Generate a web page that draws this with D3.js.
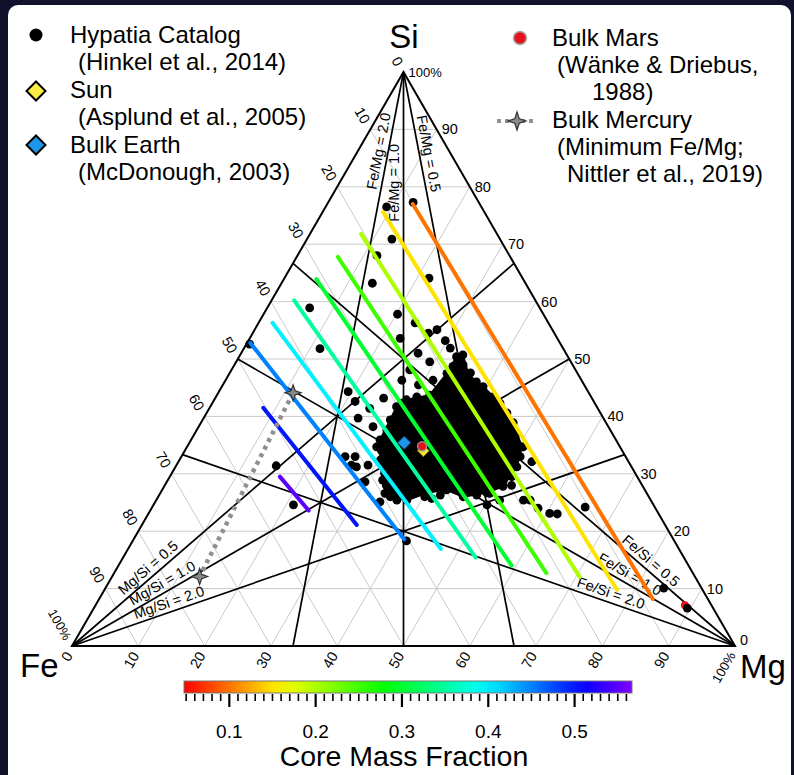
<!DOCTYPE html>
<html>
<head>
<meta charset="utf-8">
<script src="https://cdn.jsdelivr.net/npm/d3@7"></script>
<style>
	body { margin: 0; background: #11112b; }
	svg { display: block; }
	text { font-family: 'Liberation Sans', Arial, sans-serif; fill: #000; }
</style>
</head>
<body>
<svg width="794" height="775"></svg>
<script>
// every composition is [Mg %, Si %], Fe % = 100 - Mg - Si
const gridTicks = [10, 20, 30, 40, 50, 60, 70, 80, 90]
const axisTicks = [0, 10, 20, 30, 40, 50, 60, 70, 80, 90, 100]

const feMgRatios = [2.0, 1.0, 0.5]
const mgSiRatios = [0.5, 1.0, 2.0]
const feSiRatios = [0.5, 1.0, 2.0]

// iso core mass fraction lines
const cmfLevels = [0.1, 0.15, 0.2, 0.25, 0.3, 0.35, 0.4, 0.45, 0.5, 0.55]
const cmfStart = [
	[12.9, 77.0], [9.1, 75.6], [7.7, 71.8], [6.2, 67.8], [4.9, 63.9],
	[3.4, 60.2], [2.1, 56.3], [0.5, 52.8], [8.1, 41.5], [16.6, 29.5],
]
const cmfEnd = [
	[83.5, 8.2], [77.3, 9.8], [70.6, 12.0], [65.2, 12.7], [59.3, 14.0],
	[53.2, 15.4], [47.2, 16.9], [40.8, 18.6], [32.4, 21.1], [23.9, 23.6],
]
const cmfRange = [0.0475, 0.5665]
const cmfTicks = d3.range(5, 57).map(v => v / 100)
const cmfLabels = [0.1, 0.2, 0.3, 0.4, 0.5]

// outline of the dense part of the Hypatia cloud
const hypatiaCore = [
	[29.0, 42.9], [32.1, 43.7], [32.8, 47.5], [32.8, 50.4], [33.6, 50.7], [36.9, 46.3],
	[39.4, 45.2], [43.4, 42.3], [47.1, 38.9], [50.5, 34.7], [51.5, 31.2], [51.1, 27.8],
	[49.2, 26.7], [46.0, 26.0], [42.9, 27.2], [40.2, 26.7], [37.8, 25.4], [35.0, 26.0],
	[32.4, 28.9], [30.3, 32.4], [28.5, 35.9], [28.3, 39.4], [28.1, 41.7],
]
const hypatiaPoints = [
	[22.7, 53.6], [26.5, 54.5], [27.5, 55.1], [29.7, 53.2], [26.7, 51.0], [29.2, 49.5],
	[26.9, 48.1], [26.6, 46.3], [29.5, 45.5], [31.3, 46.3], [34.5, 49.0], [38.0, 46.0],
	[39.9, 44.3], [19.5, 44.3], [21.4, 42.6], [25.4, 43.2], [24.2, 41.4], [23.3, 39.7],
	[26.3, 38.2], [28.6, 34.7], [24.7, 33.0], [26.2, 33.0], [27.3, 31.2], [28.9, 31.5],
	[29.9, 28.6], [33.4, 28.0], [33.9, 25.1], [33.9, 26.6], [40.2, 26.0], [41.4, 25.7],
	[45.5, 26.6], [49.7, 26.6], [51.0, 28.0], [52.3, 28.0], [55.4, 25.4], [56.4, 25.4],
	[53.3, 32.1], [50.7, 34.7], [58.3, 24.0], [50.3, 24.6], [9.2, 76.5], [12.8, 77.3],
	[12.8, 70.9], [12.0, 68.0], [21.8, 64.1], [13.7, 63.2], [6.4, 58.9], [20.2, 57.8],
	[23.6, 56.3], [11.5, 51.8], [31.1, 51.9], [0.5, 52.6], [26.4, 31.5], [15.1, 31.4],
	[21.1, 24.6], [41.3, 18.3], [51.8, 25.4], [60.5, 23.1], [61.7, 23.0], [65.3, 24.2],
	[84.2, 10.1], [89.5, 6.6], [30.3, 43.4], [33.1, 48.7], [36.3, 47.6], [41.8, 43.4],
	[45.3, 40.6], [48.5, 37.1], [51.1, 33.0], [51.6, 29.5], [47.9, 26.3], [42.4, 26.3],
	[36.3, 25.4], [32.1, 30.1], [29.6, 34.1], [28.7, 37.6], [28.6, 42.3],
]
const redUnderPoints = [[88.9, 7.1]]
const bulkEarth = [32.4, 35.4]
const sun = [36.0, 34.0]
const bulkMars = [35.4, 34.8]
const bulkMercury = [[11.3, 44.1], [13.2, 12.1]]

const legendLeft = [
	['Hypatia Catalog', '(Hinkel et al., 2014)'],
	['Sun', '(Asplund et al., 2005)'],
	['Bulk Earth', '(McDonough, 2003)'],
]
const legendRight = [
	['Bulk Mars', '(Wänke & Driebus,', '1988)'],
	['Bulk Mercury', '(Minimum Fe/Mg;', 'Nittler et al., 2019)'],
]

const svg = d3.select('svg')
svg.append('rect').attr('width', 794).attr('height', 775).attr('fill', '#11112b')
svg.append('rect')
	.attr('x', 8)
	.attr('y', 5)
	.attr('width', 783)
	.attr('height', 800)
	.attr('rx', 10)
	.attr('fill', '#fff')

const px = d3.scaleLinear().domain([0, 100]).range([72, 735])
const py = d3.scaleLinear().domain([0, 100]).range([646, 72])
const proj = d => [px(d[0] + d[1] / 2), py(d[1])]
const line = d3
	.line()
	.x(d => proj(d)[0])
	.y(d => proj(d)[1])

const hue = d3.scaleLinear().domain(cmfRange).range([0, 270])
const cmfColor = v => d3.hsl(hue(v), 1, 0.5).formatHex()

// grid
const gridLines = []
gridTicks.forEach(v => {
	gridLines.push([[0, v], [100 - v, v]])
	gridLines.push([[v, 0], [v, 100 - v]])
	gridLines.push([[100 - v, 0], [0, 100 - v]])
})
svg.append('g')
	.selectAll('path')
	.data(gridLines)
	.enter()
	.append('path')
	.attr('d', d => line(d))
	.attr('stroke', '#cacaca')
	.attr('stroke-width', 1)
	.attr('fill', 'none')

// ratio lines
const ratioLines = [
	...feMgRatios.map((r, i) => ({
		label: `Fe/Mg = ${r.toFixed(1)}`,
		from: [0, 100],
		to: [100 / (1 + r), 0],
		at: [0.141, 0.193, 0.145][i],
	})),
	...mgSiRatios.map((r, i) => ({
		label: `Mg/Si = ${r.toFixed(1)}`,
		from: [0, 0],
		to: [(100 * r) / (1 + r), 100 / (1 + r)],
		at: [0.186, 0.191, 0.181][i],
	})),
	...feSiRatios.map((r, i) => ({
		label: `Fe/Si = ${r.toFixed(1)}`,
		from: [100, 0],
		to: [0, 100 / (1 + r)],
		at: [0.204, 0.221, 0.23][i],
	})),
]
svg.append('g')
	.selectAll('path')
	.data(ratioLines)
	.enter()
	.append('path')
	.attr('d', d => line([d.from, d.to]))
	.attr('stroke', '#000')
	.attr('stroke-width', 1.7)
	.attr('fill', 'none')

// triangle frame
svg.append('path')
	.attr('d', line([[0, 0], [100, 0], [0, 100]]) + 'Z')
	.attr('stroke', '#000')
	.attr('stroke-width', 2)
	.attr('fill', 'none')

svg.append('g')
	.selectAll('text')
	.data(ratioLines)
	.enter()
	.append('text')
	.attr('transform', d => {
		let a = proj(d.from)
		let b = proj(d.to)
		const p = proj([d.from[0] + d.at * (d.to[0] - d.from[0]), d.from[1] + d.at * (d.to[1] - d.from[1])])
		if (b[0] < a[0] || (b[0] == a[0] && b[1] > a[1])) {
			;[a, b] = [b, a]
		}
		const angle = (Math.atan2(b[1] - a[1], b[0] - a[0]) * 180) / Math.PI
		return `translate(${p[0]},${p[1]}) rotate(${angle})`
	})
	.attr('text-anchor', 'middle')
	.attr('dy', -4.5)
	.attr('font-size', 14.5)
	.text(d => d.label)

// Hypatia stars
svg.append('g')
	.selectAll('circle')
	.data(redUnderPoints)
	.enter()
	.append('circle')
	.attr('cx', d => proj(d)[0])
	.attr('cy', d => proj(d)[1])
	.attr('r', 4)
	.attr('fill', '#e8101a')
const hyp = svg.append('g').attr('fill', '#000')
hyp.append('path')
	.attr('d', line(hypatiaCore) + 'Z')
	.attr('stroke', '#000')
	.attr('stroke-width', 2)
	.attr('stroke-linejoin', 'round')
hyp.selectAll('circle')
	.data(hypatiaCore.concat(hypatiaPoints))
	.enter()
	.append('circle')
	.attr('cx', d => proj(d)[0])
	.attr('cy', d => proj(d)[1])
	.attr('r', 4.4)

// core mass fraction lines
svg.append('g')
	.selectAll('path')
	.data(cmfLevels)
	.enter()
	.append('path')
	.attr('d', (d, i) => line([cmfStart[i], cmfEnd[i]]))
	.attr('stroke', d => cmfColor(d))
	.attr('stroke-width', 4)
	.attr('stroke-linecap', 'round')
	.attr('fill', 'none')

// markers
const starPath = (R, r) => {
	const pts = d3.range(8).map(i => {
		const rad = i % 2 == 0 ? R : r
		const t = (i * Math.PI) / 4 - Math.PI / 2
		return [rad * Math.cos(t), rad * Math.sin(t)]
	})
	return 'M' + pts.join('L') + 'Z'
}
const diamondPath = h => `M0,${-h}L${h},0L0,${h}L${-h},0Z`

svg.append('path')
	.attr('d', line(bulkMercury))
	.attr('stroke', '#8f8f8f')
	.attr('stroke-width', 4.5)
	.attr('stroke-dasharray', '4,4.5')
	.attr('fill', 'none')
svg.append('g')
	.selectAll('path')
	.data(bulkMercury)
	.enter()
	.append('path')
	.attr('transform', d => `translate(${proj(d)})`)
	.attr('d', starPath(8, 3))
	.attr('fill', '#8a8a8a')
	.attr('stroke', '#333')
	.attr('stroke-width', 1.2)

svg.append('path')
	.attr('transform', `translate(${proj(bulkEarth)})`)
	.attr('d', diamondPath(6.5))
	.attr('fill', '#1c96ea')
	.attr('stroke', '#0b4f8a')
	.attr('stroke-width', 1)
svg.append('path')
	.attr('transform', `translate(${proj(sun)})`)
	.attr('d', diamondPath(6))
	.attr('fill', '#f8e534')
	.attr('stroke', '#6b5a00')
	.attr('stroke-width', 1)
svg.append('circle')
	.attr('cx', proj(bulkMars)[0])
	.attr('cy', proj(bulkMars)[1])
	.attr('r', 4.5)
	.attr('fill', '#e8101a')
	.attr('stroke', '#9a8a8a')
	.attr('stroke-width', 1.5)

// axis labels
const ticks = svg.append('g').attr('font-size', 14.5)
ticks.selectAll('.fe')
	.data(axisTicks)
	.enter()
	.append('text')
	.attr('transform', d => {
		const p = proj([0, 100 - d])
		return `translate(${p[0] - 4},${p[1] - 7}) rotate(60)`
	})
	.attr('text-anchor', 'end')
	.attr('dy', '0.35em')
	.attr('font-size', d => (d == 100 ? 13 : null))
	.text(d => (d == 100 ? '100%' : d))
ticks.selectAll('.mg')
	.data(axisTicks)
	.enter()
	.append('text')
	.attr('transform', d => {
		const p = proj([d, 0])
		return `translate(${p[0] - 3},${p[1] + 7}) rotate(-60)`
	})
	.attr('text-anchor', 'end')
	.attr('dy', '0.35em')
	.attr('font-size', d => (d == 100 ? 13 : null))
	.text(d => (d == 100 ? '100%' : d))
ticks.selectAll('.si')
	.data(axisTicks)
	.enter()
	.append('text')
	.attr('x', d => proj([100 - d, d])[0] + 5)
	.attr('y', d => proj([100 - d, d])[1] - (d == 0 ? 6 : 0))
	.attr('dy', '0.35em')
	.attr('font-size', d => (d == 100 ? 13 : null))
	.text(d => (d == 100 ? '100%' : d))

const corners = svg.append('g').attr('font-size', 33)
corners.append('text').attr('x', 404).attr('y', 48).attr('text-anchor', 'middle').text('Si')
corners.append('text').attr('x', 20).attr('y', 677).text('Fe')
corners.append('text').attr('x', 740).attr('y', 678).text('Mg')

// legend
const legend = svg.append('g').attr('font-size', 24)
legendLeft.forEach((d, i) => {
	const y = 43 + i * 55
	legend.append('text').attr('x', 70).attr('y', y).text(d[0])
	legend.append('text').attr('x', 78).attr('y', y + 27).text(d[1])
})
legend.append('circle').attr('cx', 36).attr('cy', 35).attr('r', 6.5).attr('fill', '#000')
legend.append('path')
	.attr('transform', 'translate(36,91)')
	.attr('d', diamondPath(9.5))
	.attr('fill', '#f8ee44')
	.attr('stroke', '#000')
	.attr('stroke-width', 2)
legend.append('path')
	.attr('transform', 'translate(36,145)')
	.attr('d', diamondPath(9.5))
	.attr('fill', '#1c96ea')
	.attr('stroke', '#000')
	.attr('stroke-width', 2)

legendRight.forEach((d, i) => {
	const y = 46 + i * 82
	legend.append('text').attr('x', 552).attr('y', y).text(d[0])
	legend.append('text').attr('x', 557).attr('y', y + 27).text(d[1])
	legend.append('text').attr('x', i == 0 ? 592 : 567).attr('y', y + 54).text(d[2])
})
legend.append('circle')
	.attr('cx', 520)
	.attr('cy', 38)
	.attr('r', 6.5)
	.attr('fill', '#e8101a')
	.attr('stroke', '#aaa')
	.attr('stroke-width', 1.5)
legend.append('line')
	.attr('x1', 497)
	.attr('x2', 537)
	.attr('y1', 121)
	.attr('y2', 121)
	.attr('stroke', '#8f8f8f')
	.attr('stroke-width', 4)
	.attr('stroke-dasharray', '4,4')
legend.append('path')
	.attr('transform', 'translate(517,121)')
	.attr('d', starPath(9, 3.2))
	.attr('fill', '#8a8a8a')
	.attr('stroke', '#333')
	.attr('stroke-width', 1.2)

// colour bar
const cx = d3.scaleLinear().domain(cmfRange).range([184, 632])
const grad = svg.append('defs')
	.append('linearGradient')
	.attr('id', 'cmf')
grad.selectAll('stop')
	.data(d3.range(0, 1.0001, 0.05))
	.enter()
	.append('stop')
	.attr('offset', d => d)
	.attr('stop-color', d => cmfColor(cmfRange[0] + d * (cmfRange[1] - cmfRange[0])))
svg.append('rect')
	.attr('x', cx(cmfRange[0]))
	.attr('y', 681)
	.attr('width', cx(cmfRange[1]) - cx(cmfRange[0]))
	.attr('height', 12)
	.attr('fill', 'url(#cmf)')
	.attr('stroke', '#777')
	.attr('stroke-width', 1)
svg.append('g')
	.selectAll('line')
	.data(cmfTicks)
	.enter()
	.append('line')
	.attr('x1', d => cx(d))
	.attr('x2', d => cx(d))
	.attr('y1', 694)
	.attr('y2', d => (cmfLabels.some(v => Math.abs(v - d) < 1e-6) ? 707 : 701))
	.attr('stroke', '#000')
	.attr('stroke-width', d => (cmfLabels.some(v => Math.abs(v - d) < 1e-6) ? 2.2 : 1.6))
svg.append('g')
	.attr('font-size', 19)
	.attr('text-anchor', 'middle')
	.selectAll('text')
	.data(cmfLabels)
	.enter()
	.append('text')
	.attr('x', d => cx(d))
	.attr('y', 738)
	.text(d => d.toFixed(1))
svg.append('text')
	.attr('x', 404)
	.attr('y', 766)
	.attr('text-anchor', 'middle')
	.attr('font-size', 28.5)
	.text('Core Mass Fraction')
</script>
</body>
</html>
